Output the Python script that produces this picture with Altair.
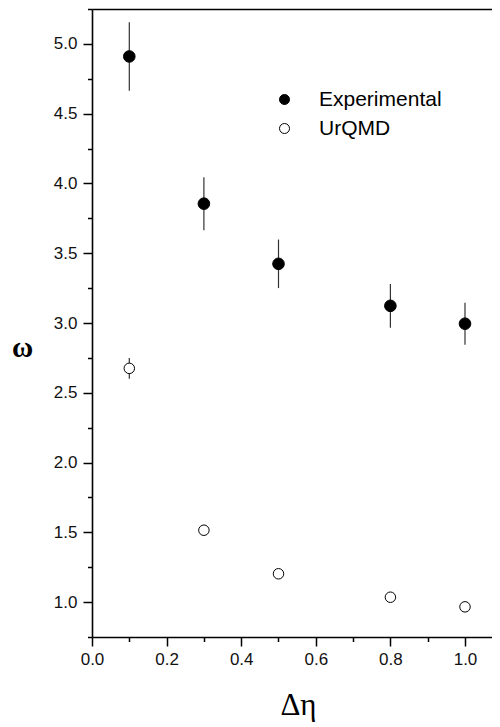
import altair as alt
import pandas as pd

delta_eta = [0.1, 0.3, 0.5, 0.8, 1.0]
exp_omega = [4.91, 3.855, 3.424, 3.123, 2.995]
exp_err = [0.245, 0.19, 0.174, 0.157, 0.15]
urqmd_omega = [2.675, 1.515, 1.203, 1.035, 0.966]
urqmd_err = [0.075, 0.03, 0.03, 0.03, 0.03]
series_names = ["Experimental", "UrQMD"]

rows = []
for x, y, e in zip(delta_eta, exp_omega, exp_err):
    rows.append({"deta": x, "omega": y, "lo": y - e, "hi": y + e, "series": series_names[0]})
for x, y, e in zip(delta_eta, urqmd_omega, urqmd_err):
    rows.append({"deta": x, "omega": y, "lo": y - e, "hi": y + e, "series": series_names[1]})
df = pd.DataFrame(rows)

x_ticks = [round(i * 0.1, 1) for i in range(0, 11)]
y_ticks = [0.75 + 0.25 * i for i in range(0, 19)]

xscale = alt.Scale(domain=[0, 1.0724], nice=False, zero=False)
yscale = alt.Scale(domain=[0.75, 5.25], nice=False, zero=False)

x_major = "round(datum.value*10) % 2 == 0"
y_major = "round(datum.value*4) % 2 == 0"

x_axis = alt.Axis(
    orient="bottom",
    values=x_ticks,
    labelExpr=x_major + " ? format(datum.value, '.1f') : ''",
    tickSize={"condition": {"test": x_major, "value": 9}, "value": 4.5},
    labelPadding=5,
    labelOverlap=False,
    labelFlush=False,
    grid=False,
    title="Δη",
    titleFont="Liberation Serif",
    titleFontSize=31,
    titleFontWeight="normal",
    titleX=206,
    titleY=77,
    titleAlign="center",
    titleBaseline="alphabetic",
)
y_axis = alt.Axis(
    orient="left",
    values=y_ticks,
    labelExpr=y_major + " ? format(datum.value, '.1f') : ''",
    tickSize={"condition": {"test": y_major, "value": 9}, "value": 4.5},
    labelPadding=6,
    labelOverlap=False,
    labelFlush=False,
    grid=False,
    title="ω",
    titleFont="Liberation Serif",
    titleFontSize=29,
    titleFontWeight="bold",
    titleAngle=0,
    titleX=-70,
    titleY=338,
    titleAlign="center",
    titleBaseline="middle",
)

bars = alt.Chart(df).mark_rule(color="#333333", strokeWidth=1.2).encode(
    x=alt.X("deta:Q", scale=xscale, axis=alt.Axis(orient="top", labels=False, ticks=False, grid=False, title=None)),
    y=alt.Y("lo:Q", scale=yscale, axis=None),
    y2="hi:Q",
)

points = alt.Chart(df).mark_point(shape="circle", filled=True, stroke="black", strokeWidth=1, opacity=1).encode(
    x=alt.X("deta:Q", scale=xscale, axis=x_axis),
    y=alt.Y("omega:Q", scale=yscale, axis=y_axis),
    fill=alt.Fill(
        "series:N",
        scale=alt.Scale(domain=series_names, range=["black", "white"]),
        legend=alt.Legend(
            title=None,
            orient="none",
            legendX=182,
            legendY=80,
            padding=0,
            labelFont="Liberation Sans",
            labelFontSize=21,
            labelColor="black",
            labelOffset=24,
            rowPadding=7,
            symbolType="circle",
            symbolSize=100,
            symbolStrokeColor="black",
            symbolStrokeWidth=1,
        ),
    ),
    size=alt.condition(alt.datum.series == "Experimental", alt.value(135), alt.value(110)),
)

chart = alt.layer(bars, points).resolve_axis(x="independent", y="independent").properties(
    width=400,
    height=628,
    autosize=alt.AutoSizeParams(type="none"),
    padding={"left": 84, "top": 1, "right": 0, "bottom": 85},
).configure_view(stroke=None).configure_axis(
    domainColor="black",
    domainWidth=1.6,
    tickColor="black",
    tickWidth=1.5,
    labelFont="Liberation Sans",
    labelFontSize=17,
    labelColor="#111111",
    titleColor="black",
)

chart.save("out.html", embed_options={"renderer": "svg", "actions": False})
